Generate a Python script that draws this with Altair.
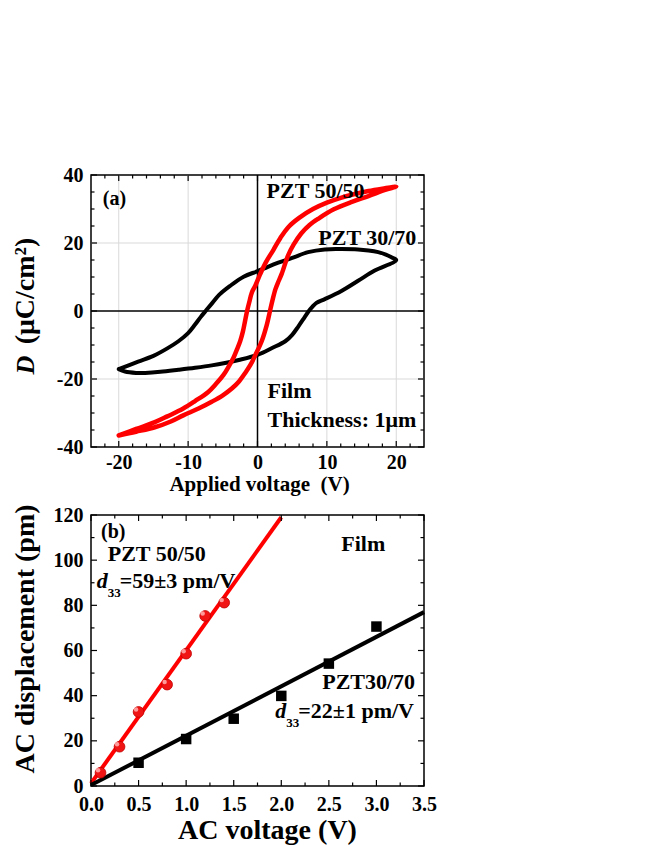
import altair as alt
import pandas as pd

FONT = "Liberation Serif"

# ---------------- Panel (a): D-V hysteresis loops ----------------
red_up_v = [-20, -17.5, -14.8, -12.5, -10.7, -8.5, -6.6, -5.0, -3.7, -2.7, -1.8, -1.0, -0.3, 0.6, 1.35,
            1.8, 2.2, 2.6, 3.0, 3.5, 4.4, 5.2, 6.3, 7.5, 8.8, 11.0, 13.6, 16.0, 18.4, 20.0]
red_up_d = [-36.6, -35.5, -34.2, -32.5, -30.7, -28.7, -26.7, -24.8, -22.8, -20.8, -18.3, -15.8, -12.9, -8.9, -4.0,
            0.0, 3.5, 6.5, 8.6, 11.0, 16.3, 19.5, 22.8, 25.3, 27.2, 29.9, 32.1, 33.8, 35.6, 36.6]
red_dn_v = [20, 18, 16, 14, 12, 10, 8, 6, 4.5, 3.3, 2.3, 1.2, 0.4, -0.3, -0.8, -1.2, -1.5, -1.8, -2.1, -2.5,
            -3.0, -3.5, -4.2, -4.9, -6.0, -7.1, -9.0, -10.7, -13.0, -14.8, -17.5, -20]
red_dn_d = [36.6, 36.0, 35.3, 34.4, 33.3, 31.9, 30.0, 27.4, 24.8, 21.5, 18.0, 14.3, 10.9, 7.5, 5.5, 2.5, 0.0, -3.0,
            -6.0, -8.9, -11.5, -13.9, -16.5, -18.8, -21.5, -23.8, -26.5, -28.7, -31.0, -32.7, -34.7, -36.6]

blk_up_v = [-20, -19.1, -17.5, -16.2, -14, -11.4, -9, -6.6, -4.5, -2.7, 0, 2.1, 4.0, 5.0, 5.9, 6.8, 7.4, 7.9,
            8.5, 9.7, 12.1, 14.5, 16.9, 20]
blk_up_d = [-17.1, -17.8, -18.2, -18.2, -17.9, -17.3, -16.7, -16.0, -15.2, -14.4, -12.9, -10.9, -8.9, -7.0,
            -4.5, -1.8, 0.0, 1.2, 2.4, 3.5, 5.9, 8.9, 11.9, 15.0]
blk_dn_v = [20, 19.3, 18.5, 17.4, 16, 14.5, 12, 9.7, 7.3, 5, 3, 1.5, 0, -2, -4, -5.5, -6.5, -7.4, -8.2, -9, -10,
            -11.4, -13, -15, -17.2, -20]
blk_dn_d = [15.0, 15.8, 16.6, 17.3, 17.8, 18.1, 18.2, 18.1, 17.3, 15.6, 14.2, 13.0, 11.7, 10.1, 7.3, 4.8, 2.4,
            0.2, -1.8, -4.0, -6.5, -8.9, -11.0, -13.2, -14.9, -17.1]

a_x_labels = [-20, -10, 0, 10, 20]
a_y_labels = [-40, -20, 0, 20, 40]
a_x_minor = [-22, -18, -16, -14, -12, -8, -6, -4, -2, 2, 4, 6, 8, 12, 14, 16, 18, 22]
a_y_minor = [-35, -30, -25, -15, -10, -5, 5, 10, 15, 25, 30, 35]
a_grid_x = [-20, -10, 10, 20]
a_grid_y = [-20, 20]

# ---------------- Panel (b): AC displacement vs AC voltage ----------------
p5050_v = [0.1, 0.3, 0.5, 0.8, 1.0, 1.2, 1.4]
p5050_d = [5.9, 17.4, 32.8, 44.9, 58.6, 75.3, 81.2]
p3070_v = [0.5, 1.0, 1.5, 2.0, 2.5, 3.0]
p3070_d = [10.3, 20.8, 29.8, 39.9, 54.2, 70.6]
fit5050_v = [0.0, 2.0]
fit5050_d = [1.2, 119.0]
fit3070_v = [0.0, 3.5]
fit3070_d = [0.4, 77.0]

b_x_labels = [0.0, 0.5, 1.0, 1.5, 2.0, 2.5, 3.0, 3.5]
b_y_labels = [0, 20, 40, 60, 80, 100, 120]
b_x_minor = [0.25, 0.75, 1.25, 1.75, 2.25, 2.75, 3.25]
b_y_minor = [10, 30, 50, 70, 90, 110]

W, H1, H2 = 333, 272, 271
MAJ, MIN = 6, 3.5

MINUS = "replace(datum.label, '\u2212', '-')"


def loop_df(v_up, d_up, v_dn, d_dn):
    v = v_up + v_dn[1:]
    d = d_up + d_dn[1:]
    return pd.DataFrame({"v": v, "d": d, "i": list(range(len(v)))})


def ticks(xs, ys, sx, sy, axx, axy, h):
    """Inward ticks on all four sides (major and minor)."""
    layers = []
    for vals, ln in xs:
        df = pd.DataFrame({"t": vals})
        xe = alt.X("t:Q", scale=sx, axis=axx)
        layers.append(alt.Chart(df).mark_rule(color="black", strokeWidth=1.2).encode(
            x=xe, y=alt.value(h), y2=alt.value(h - ln)))
        layers.append(alt.Chart(df).mark_rule(color="black", strokeWidth=1.2).encode(
            x=xe, y=alt.value(0), y2=alt.value(ln)))
    for vals, ln in ys:
        df = pd.DataFrame({"t": vals})
        ye = alt.Y("t:Q", scale=sy, axis=axy)
        layers.append(alt.Chart(df).mark_rule(color="black", strokeWidth=1.2).encode(
            y=ye, x=alt.value(0), x2=alt.value(ln)))
        layers.append(alt.Chart(df).mark_rule(color="black", strokeWidth=1.2).encode(
            y=ye, x=alt.value(W), x2=alt.value(W - ln)))
    return layers


def texts(rows, sx, sy, axx, axy, size=22, style="normal", dx=0, dy=0):
    df = pd.DataFrame(rows, columns=["x", "y", "t"])
    return alt.Chart(df).mark_text(align="left", baseline="alphabetic", font=FONT, fontWeight="bold",
                                   fontSize=size, fontStyle=style, dx=dx, dy=dy, color="black").encode(
        x=alt.X("x:Q", scale=sx, axis=axx), y=alt.Y("y:Q", scale=sy, axis=axy), text="t:N")


# ---------------- build panel (a) ----------------
sxa = alt.Scale(domain=[-24, 24], nice=False, zero=False)
sya = alt.Scale(domain=[-40, 40], nice=False, zero=False)
axa_x = alt.Axis(values=a_x_labels, title="Applied voltage\u00a0\u00a0(V)", labelExpr=MINUS, labelPadding=5,
                 labelFlush=False, titleX=168, titleY=37, titleBaseline="middle", titleFontSize=21)
axa_y = alt.Axis(values=a_y_labels, title=None, labelExpr=MINUS, labelPadding=8, labelFlush=False)


def XA(f):
    return alt.X(f, type="quantitative", scale=sxa, axis=axa_x)


def YA(f):
    return alt.Y(f, type="quantitative", scale=sya, axis=axa_y)


grid_a = [
    alt.Chart(pd.DataFrame({"g": a_grid_x})).mark_rule(color="#d9d9d9", strokeWidth=1).encode(x=XA("g")),
    alt.Chart(pd.DataFrame({"g": a_grid_y})).mark_rule(color="#d9d9d9", strokeWidth=1).encode(y=YA("g")),
    alt.Chart(pd.DataFrame({"g": [0]})).mark_rule(color="black", strokeWidth=1.5).encode(x=XA("g")),
    alt.Chart(pd.DataFrame({"g": [0]})).mark_rule(color="black", strokeWidth=1.5).encode(y=YA("g")),
]

blk_loop = alt.Chart(loop_df(blk_up_v, blk_up_d, blk_dn_v, blk_dn_d)).mark_line(
    color="black", strokeWidth=4, strokeJoin="round", strokeCap="round", interpolate="catmull-rom"
).encode(x=XA("v"), y=YA("d"), order="i:Q")
red_loop = alt.Chart(loop_df(red_up_v, red_up_d, red_dn_v, red_dn_d)).mark_line(
    color="#ff0000", strokeWidth=4.5, strokeJoin="round", strokeCap="round", interpolate="catmull-rom"
).encode(x=XA("v"), y=YA("d"), order="i:Q")

ticks_a = ticks([(a_x_labels, MAJ), (a_x_minor, MIN)], [(a_y_labels, MAJ), (a_y_minor, MIN)],
                sxa, sya, axa_x, axa_y, H1)

txt_a = [
    texts([[-22.3, 31.2, "(a)"]], sxa, sya, axa_x, axa_y, size=20),
    texts([[1.3, 33.2, "PZT 50/50"], [8.76, 19.5, "PZT 30/70"], [1.44, -25.7, "Film"],
           [1.44, -34.1, "Thickness: 1\u03bcm"]], sxa, sya, axa_x, axa_y, size=22),
]

ytitle_a = [
    alt.Chart(pd.DataFrame({"t": ["D"]})).mark_text(
        font=FONT, fontWeight="bold", fontStyle="italic", fontSize=26, angle=270,
        align="center", baseline="middle", color="black").encode(
        x=alt.value(-65), y=alt.value(190), text="t:N"),
    alt.Chart(pd.DataFrame({"t": ["(\u03bcC/cm\u00b2)"]})).mark_text(
        font=FONT, fontWeight="bold", fontSize=28, angle=270,
        align="center", baseline="middle", color="black").encode(
        x=alt.value(-65), y=alt.value(116), text="t:N"),
]

top = alt.layer(*grid_a, blk_loop, red_loop, *ticks_a, *txt_a, *ytitle_a).properties(width=W, height=H1)

# ---------------- build panel (b) ----------------
sxb = alt.Scale(domain=[0, 3.5], nice=False)
syb = alt.Scale(domain=[0, 120], nice=False)
axb_x = alt.Axis(values=b_x_labels, format=".1f", title="AC voltage (V)", labelPadding=8, labelFlush=False,
                 titleX=176, titleY=44, titleBaseline="middle", titleFontSize=28)
axb_y = alt.Axis(values=b_y_labels, format="d", title="AC displacement (pm)", labelPadding=8, labelFlush=False,
                 titleX=-66, titleY=123.5, titleAngle=270, titleBaseline="middle", titleAlign="center",
                 titleFontSize=28)


def XB(f):
    return alt.X(f, type="quantitative", scale=sxb, axis=axb_x)


def YB(f):
    return alt.Y(f, type="quantitative", scale=syb, axis=axb_y)


fit_red = alt.Chart(pd.DataFrame({"v": fit5050_v, "d": fit5050_d})).mark_line(
    color="#ff0000", strokeWidth=4).encode(x=XB("v"), y=YB("d"))
fit_blk = alt.Chart(pd.DataFrame({"v": fit3070_v, "d": fit3070_d})).mark_line(
    color="black", strokeWidth=4).encode(x=XB("v"), y=YB("d"))
pts_blk = alt.Chart(pd.DataFrame({"v": p3070_v, "d": p3070_d})).mark_square(
    color="black", size=110, opacity=1).encode(x=XB("v"), y=YB("d"))
df_red = pd.DataFrame({"v": p5050_v, "d": p5050_d})
pts_red = alt.Chart(df_red).mark_circle(
    color="#f01414", size=115, opacity=1, stroke="#c00000", strokeWidth=0.8).encode(x=XB("v"), y=YB("d"))
pts_red_hi = alt.Chart(df_red).mark_circle(
    color="#ff9a9a", size=20, opacity=1, xOffset=-2.5, yOffset=-2.5).encode(x=XB("v"), y=YB("d"))

ticks_b = ticks([(b_x_labels, MAJ), (b_x_minor, MIN)], [(b_y_labels, MAJ), (b_y_minor, MIN)],
                sxb, syb, axb_x, axb_y, H2)

txt_b = [
    texts([[0.105, 109.8, "(b)"]], sxb, syb, axb_x, axb_y, size=20),
    texts([[2.63, 104, "Film"], [0.176, 99.5, "PZT 50/50"], [2.43, 43, "PZT30/70"]],
          sxb, syb, axb_x, axb_y, size=22),
    texts([[0.06, 87.5, "d"], [1.937, 30.0, "d"]], sxb, syb, axb_x, axb_y, size=22, style="italic"),
    texts([[0.06, 87.5, "33"], [1.937, 30.0, "33"]], sxb, syb, axb_x, axb_y, size=13, dx=11, dy=9),
    texts([[0.06, 87.5, "=59\u00b13 pm/V"], [1.937, 30.0, "=22\u00b11 pm/V"]], sxb, syb, axb_x, axb_y,
          size=22, dx=23),
]

bottom = alt.layer(fit_red, fit_blk, pts_blk, pts_red, pts_red_hi, *ticks_b, *txt_b).properties(
    width=W, height=H2)

chart = alt.vconcat(top, bottom, spacing=68, bounds="flush").properties(
    padding={"left": 2, "top": 156, "right": 10, "bottom": 5}
).configure_axis(
    labelFont=FONT, labelFontSize=20, labelFontWeight="bold", labelColor="black",
    titleFont=FONT, titleFontWeight="bold", titleColor="black",
    grid=False, ticks=False, domain=False
).configure_view(stroke="black", strokeWidth=1.5)

chart.save("out.html", embed_options={"renderer": "svg", "actions": False})
